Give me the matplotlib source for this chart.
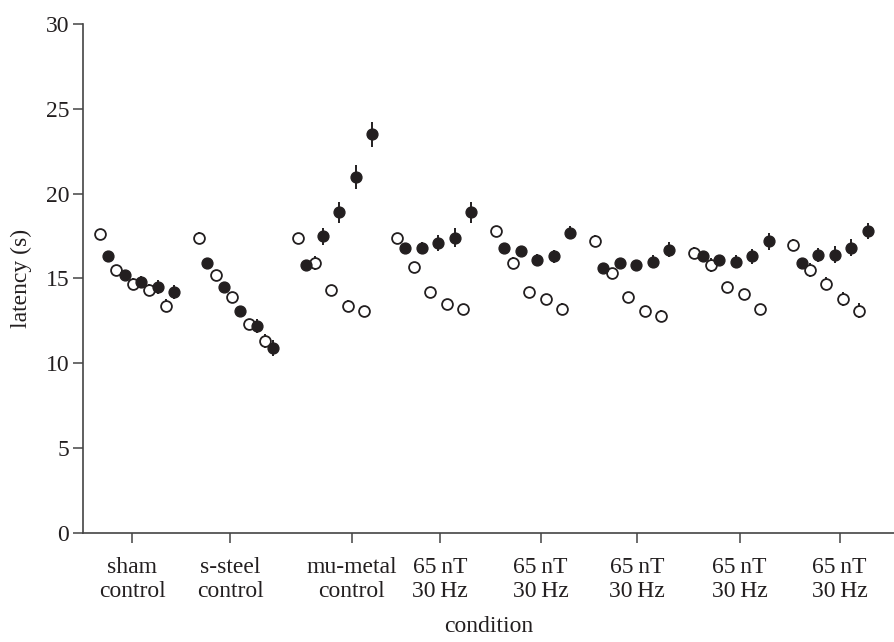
import matplotlib
matplotlib.use("Agg")
import matplotlib.pyplot as plt
import numpy as np

plt.rcParams['font.family'] = ['Liberation Serif', 'DejaVu Serif']

# condition tick labels and where they sit (in slot units)
tick_labels = ['sham\ncontrol', 's-steel\ncontrol', 'mu-metal\ncontrol',
               '65\u2009nT\n30\u2009Hz', '65\u2009nT\n30\u2009Hz', '65\u2009nT\n30\u2009Hz',
               '65\u2009nT\n30\u2009Hz', '65\u2009nT\n30\u2009Hz']
tick_pos = [3.9, 15.8, 30.5, 41.2, 53.4, 65.1, 77.5, 89.6]

# latency (s), 8 groups x 5 trials, alternating open / filled
open_vals = [
    [17.6, 15.5, 14.7, 14.3, 13.4],
    [17.4, 15.2, 13.9, 12.3, 11.3],
    [17.4, 15.9, 14.3, 13.4, 13.1],
    [17.4, 15.7, 14.2, 13.5, 13.2],
    [17.8, 15.9, 14.2, 13.8, 13.2],
    [17.2, 15.3, 13.9, 13.1, 12.8],
    [16.5, 15.8, 14.5, 14.1, 13.2],
    [17.0, 15.5, 14.7, 13.8, 13.1],
]
open_err = [
    [0.3, 0.3, 0.3, 0.35, 0.4],
    [0.35, 0.3, 0.3, 0.3, 0.4],
    [0.3, 0.4, 0.3, 0.35, 0.3],
    [0.3, 0.3, 0.3, 0.3, 0.3],
    [0.3, 0.35, 0.3, 0.3, 0.35],
    [0.35, 0.3, 0.3, 0.3, 0.35],
    [0.35, 0.4, 0.3, 0.3, 0.3],
    [0.35, 0.4, 0.4, 0.4, 0.45],
]
filled_vals = [
    [16.3, 15.2, 14.8, 14.5, 14.2],
    [15.9, 14.5, 13.1, 12.2, 10.9],
    [15.8, 17.5, 18.9, 21.0, 23.5],
    [16.8, 16.8, 17.1, 17.4, 18.9],
    [16.8, 16.6, 16.1, 16.3, 17.7],
    [15.6, 15.9, 15.8, 16.0, 16.7],
    [16.3, 16.1, 16.0, 16.3, 17.2],
    [15.9, 16.4, 16.4, 16.8, 17.8],
]
filled_err = [
    [0.3, 0.3, 0.35, 0.4, 0.4],
    [0.3, 0.3, 0.3, 0.4, 0.45],
    [0.3, 0.5, 0.6, 0.7, 0.75],
    [0.3, 0.35, 0.45, 0.55, 0.6],
    [0.3, 0.3, 0.35, 0.4, 0.4],
    [0.3, 0.3, 0.3, 0.4, 0.45],
    [0.3, 0.3, 0.4, 0.45, 0.5],
    [0.3, 0.4, 0.5, 0.5, 0.5],
]

fig = plt.figure(figsize=(8.94, 6.42), dpi=100)
ax = fig.add_axes([0.0928, 0.1698, 0.9072, 0.7928])

ink = '#231f20'
for g in range(len(open_vals)):
    xo = 12 * g + np.arange(0, 10, 2)
    xf = 12 * g + np.arange(1, 10, 2)
    ax.errorbar(xo, open_vals[g], yerr=open_err[g], fmt='none', ecolor=ink,
                elinewidth=1.4, capsize=0, zorder=2)
    ax.plot(xo, open_vals[g], 'o', ms=7.8, mfc='white', mec=ink, mew=1.3,
            linestyle='none', zorder=3)
    ax.errorbar(xf, filled_vals[g], yerr=filled_err[g], fmt='none', ecolor=ink,
                elinewidth=1.4, capsize=0, zorder=2)
    ax.plot(xf, filled_vals[g], 'o', ms=7.8, mfc=ink, mec=ink, mew=1.0,
            linestyle='none', zorder=3)

ax.set_xlim(-2.06, 96.2)
ax.set_ylim(0, 30)
ax.set_yticks(np.arange(0, 31, 5))
ax.set_xticks(tick_pos)
ax.set_xticklabels(tick_labels, fontsize=17, linespacing=1.2)

for s in ['top', 'right']:
    ax.spines[s].set_visible(False)
for s in ['left', 'bottom']:
    ax.spines[s].set_color('#444444')
    ax.spines[s].set_linewidth(1.2)
ax.tick_params(axis='both', direction='out', length=7, width=1.1, color='#444444',
               labelsize=17, labelcolor=ink)
ax.tick_params(axis='x', pad=10, labelsize=17)
ax.tick_params(axis='y', pad=3)

ax.set_ylabel('latency (s)', fontsize=17, color=ink, labelpad=10)
ax.set_xlabel('condition', fontsize=17, color=ink, labelpad=10)

fig.savefig('out.png', dpi=100)
